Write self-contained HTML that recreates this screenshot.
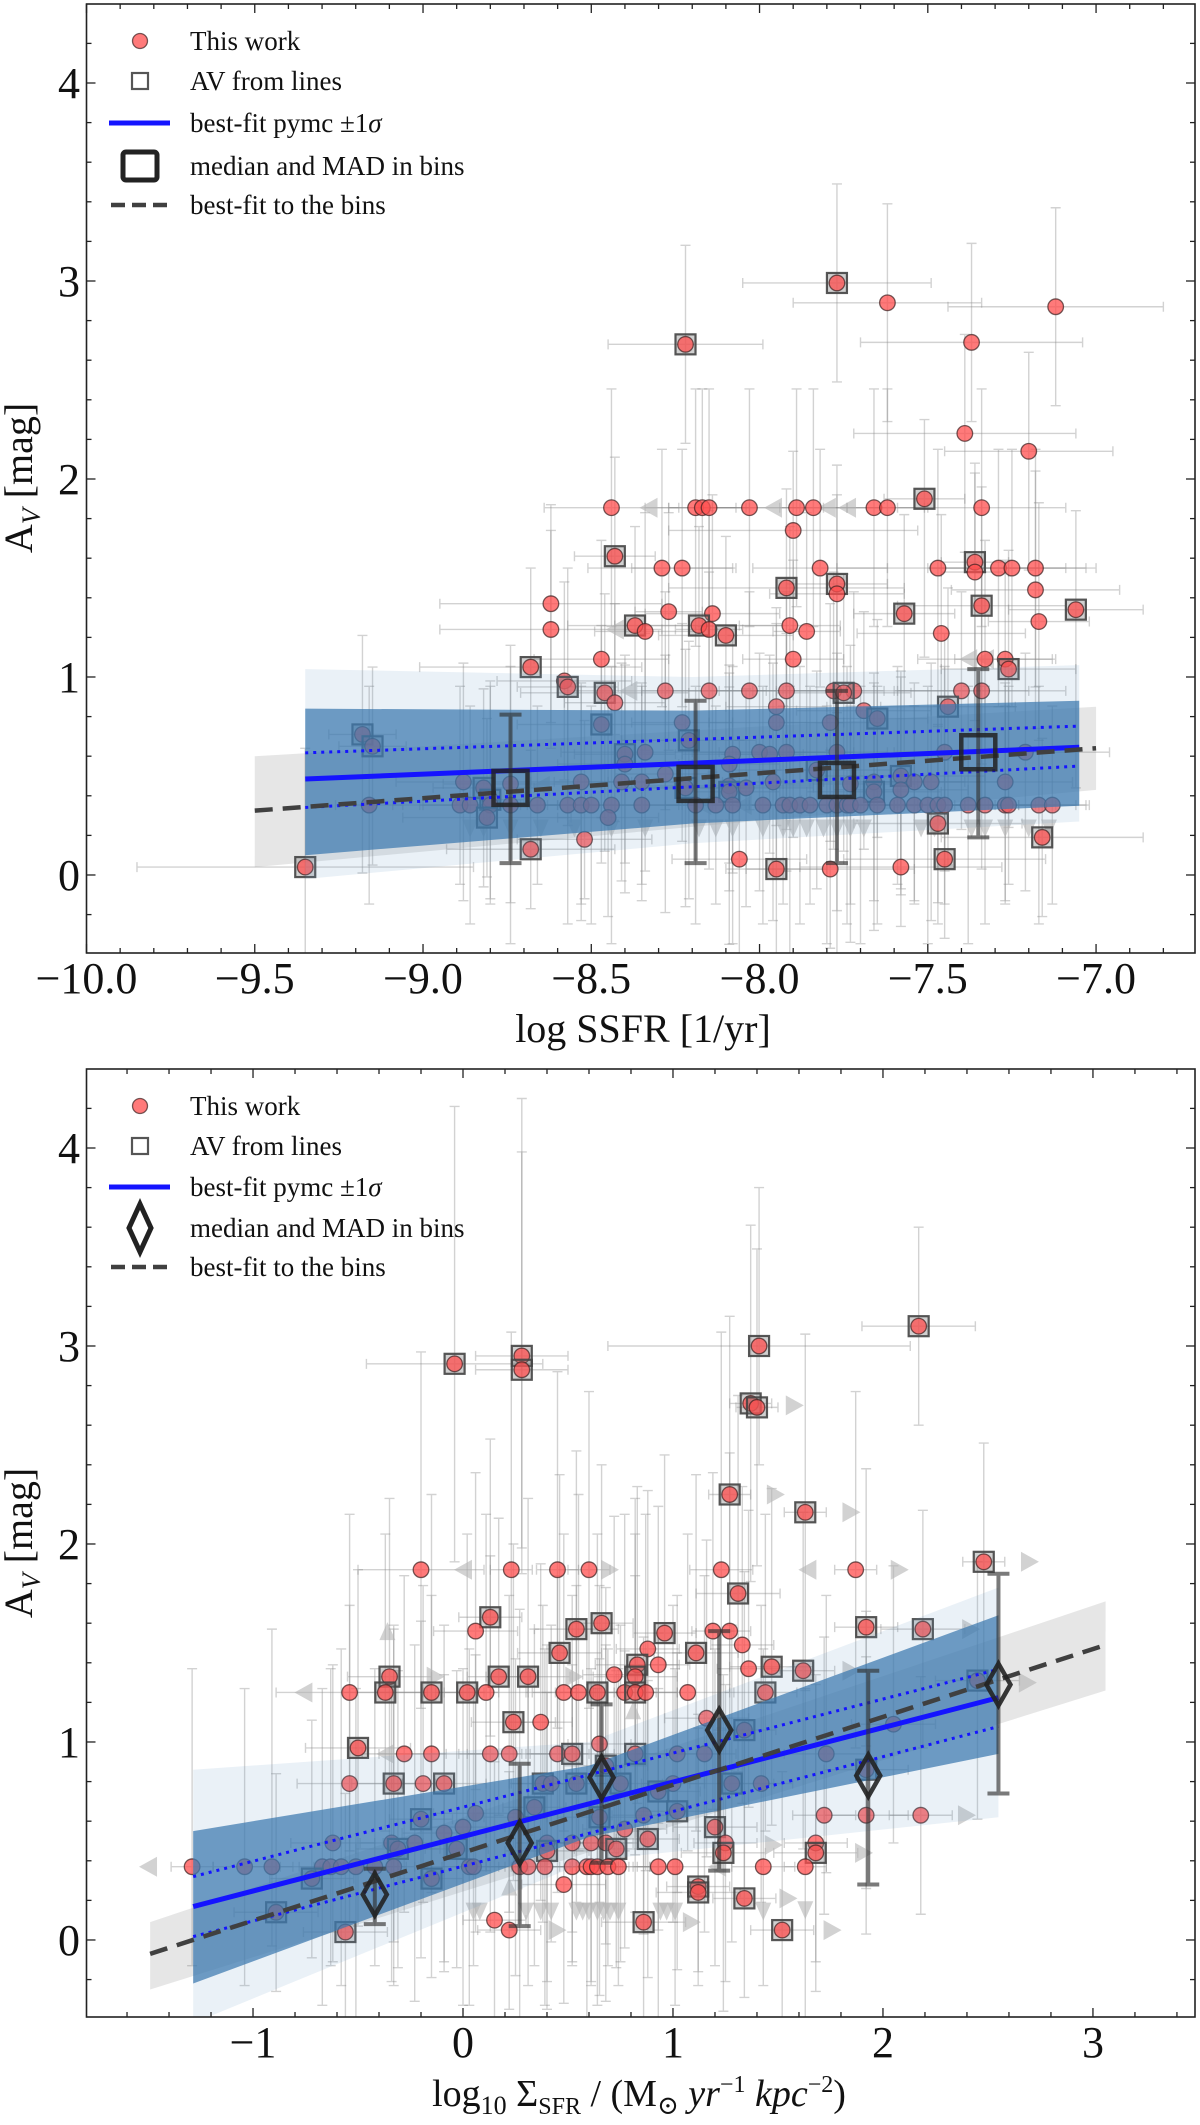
<!DOCTYPE html>
<html>
<head>
<meta charset="utf-8">
<style>
html,body{margin:0;padding:0;background:#fff;}
svg{display:block;font-family:"Liberation Serif","DejaVu Serif",serif;}
</style>
</head>
<body>
<svg id="chart" xmlns="http://www.w3.org/2000/svg" width="1200" height="2125" viewBox="0 0 1200 2125"></svg>
<script>
// ================= TOP PANEL DATA (log SSFR vs A_V) =================
const topX = [
 -7.77,-7.62,-7.12,-8.22,-7.37,-7.39,-7.20,-7.51,
 -8.44,-8.19,-8.17,-8.15,-8.03,-7.89,-7.84,-7.66,-7.62,-7.34,
 -7.90,-8.43,
 -8.29,-8.23,-7.82,-7.47,-7.29,-7.25,-7.18,
 -7.36,-7.36,
 -7.92,-7.77,-7.77,-7.18,-8.62,-7.57,-7.34,-7.06,-7.17,-8.27,-8.14,-8.62,-8.37,-8.34,-8.18,-8.15,-8.10,-7.91,-7.86,-7.46,-8.68,-8.47,-7.90,-7.33,-7.27,-7.26,-8.58,-8.57,-8.46,-8.43,
 -8.28,-8.15,-8.03,-7.92,-7.78,-7.72,-7.40,-7.34,
 -7.75,-7.95,-7.95,-7.79,-7.69,-7.65,-7.44,-8.47,-8.23,-9.18,-9.15,-8.21,-8.34,-8.40,-8.40,-8.08,-8.00,-7.97,-7.92,-7.77,-7.45,-7.21,-8.09,
 -8.88,-8.82,-8.80,-8.74,-8.53,-8.41,-8.35,-8.28,-8.22,-8.09,-8.09,-8.04,-7.96,-7.83,-7.73,-7.66,-7.66,-7.58,-7.58,-7.54,-7.49,-7.27,
 -9.16,-8.89,-8.86,-8.80,-8.74,-8.66,-8.57,-8.53,-8.50,-8.44,-8.35,-8.19,-8.13,-8.08,-7.99,-7.93,-7.91,-7.88,-7.85,-7.80,-7.77,-7.74,-7.73,-7.70,-7.65,-7.59,-7.54,-7.50,-7.47,-7.45,-7.38,-7.33,-7.27,-7.26,-7.17,-7.13,
 -8.81,-8.45,-7.47,-8.52,-7.16,-8.68,-8.06,-7.45,-7.95,-7.79,-7.58,-9.35
];
const topY = [
 2.99,2.89,2.87,2.68,2.69,2.23,2.14,1.90,
 1.855,1.855,1.855,1.855,1.855,1.855,1.855,1.855,1.855,1.855,
 1.74,1.61,
 1.55,1.55,1.55,1.55,1.55,1.55,1.55,
 1.58,1.53,
 1.45,1.47,1.42,1.44,1.37,1.32,1.36,1.34,1.28,1.33,1.32,1.24,1.26,1.23,1.26,1.24,1.21,1.26,1.23,1.22,1.05,1.09,1.09,1.09,1.09,1.04,0.98,0.95,0.92,0.87,
 0.93,0.93,0.93,0.93,0.93,0.93,0.93,0.93,
 0.92,0.85,0.77,0.77,0.83,0.79,0.85,0.76,0.77,0.71,0.65,0.68,0.62,0.61,0.56,0.61,0.62,0.61,0.62,0.62,0.62,0.62,0.56,
 0.47,0.44,0.38,0.46,0.47,0.47,0.47,0.51,0.44,0.45,0.42,0.44,0.47,0.53,0.46,0.47,0.42,0.50,0.43,0.47,0.47,0.47,
 0.353,0.353,0.353,0.353,0.353,0.353,0.353,0.353,0.353,0.353,0.353,0.353,0.353,0.353,0.353,0.353,0.353,0.353,0.353,0.353,0.353,0.353,0.353,0.353,0.353,0.353,0.353,0.353,0.353,0.353,0.353,0.353,0.353,0.353,0.353,0.353,
 0.29,0.29,0.26,0.18,0.19,0.13,0.08,0.08,0.03,0.03,0.04,0.04
];
const topSq = [
 1,0,0,1,0,0,0,1,
 0,0,0,0,0,0,0,0,0,0,
 0,1,
 0,0,0,0,0,0,0,
 1,0,
 1,1,0,0,0,1,1,1,0,0,0,0,1,0,1,0,1,0,0,0,1,0,0,0,0,1,0,1,1,0,
 0,0,0,0,0,0,0,0,
 1,0,0,0,0,1,1,1,0,1,1,1,0,1,0,0,0,0,0,0,0,0,0,
 0,1,1,0,0,0,0,0,1,0,1,0,0,1,0,0,1,1,0,0,0,0,
 0,0,0,0,0,0,0,0,0,0,0,0,0,0,0,0,0,0,0,0,0,0,0,0,0,0,0,0,0,0,0,0,0,0,0,0,
 1,0,1,0,1,1,0,1,1,0,0,1
];
const topErrLo = [
 0.5,0.6,0.5,0.5,0.4,0.6,0.6,0.8,
 0.6,0.7,0.6,0.6,0.6,0.5,0.6,0.6,0.6,0.6,
 0.5,0.9,
 0.7,0.7,0.6,0.8,0.7,0.7,0.6,
 0.8,0.8,
 0.8,0.9,0.6,0.7,0.6,0.7,0.8,0.9,0.6,0.7,0.8,0.6,0.7,0.6,0.9,0.7,0.6,0.8,0.7,0.6,0.7,0.8,0.9,0.7,0.6,0.8,0.5,0.7,0.8,0.6,
 0.6,0.9,0.6,0.7,0.8,0.6,0.7,0.9,
 0.8,0.6,0.7,0.6,0.7,0.6,0.8,0.7,0.6,0.7,0.6,0.8,0.6,0.7,0.5,0.6,0.7,0.5,0.6,0.8,0.6,0.7,0.5,
 0.6,0.5,0.5,0.6,0.7,0.5,0.6,0.7,0.6,0.8,0.5,0.6,0.7,0.6,0.8,0.6,0.7,0.6,0.5,0.6,0.7,0.6,
 0.5,0.4,0.6,0.5,0.7,0.4,0.6,0.5,0.6,0.7,0.4,0.6,0.5,0.7,0.6,0.5,0.8,0.6,0.5,0.7,0.9,0.6,0.5,0.7,0.6,0.4,0.5,0.7,0.6,0.5,0.7,0.6,0.5,0.4,0.6,0.5,
 0.3,0.5,0.4,0.3,0.4,0.3,0.5,0.4,0.7,0.4,0.3,0.6
];
const topErrHi = [
 0.5,0.5,0.5,0.5,0.5,0.5,0.5,0.4,
 0.6,0.6,0.6,0.6,0.6,0.6,0.6,0.6,0.6,0.6,
 0.4,0.5,
 0.6,0.6,0.6,0.6,0.6,0.6,0.6,
 0.5,0.5,
 0.5,0.6,0.5,0.6,0.5,0.5,0.6,0.5,0.6,0.5,0.6,0.5,0.5,0.6,0.5,0.6,0.5,0.5,0.6,0.6,0.5,0.6,0.5,0.6,0.5,0.6,0.5,0.6,0.5,0.5,
 0.5,0.6,0.5,0.5,0.6,0.5,0.5,0.6,
 0.6,0.5,0.5,0.6,0.5,0.5,0.6,0.5,0.5,0.5,0.4,0.5,0.6,0.5,0.5,0.6,0.5,0.5,0.6,0.5,0.6,0.5,0.5,
 0.6,0.5,0.6,0.7,0.5,0.6,0.5,0.6,0.7,0.5,0.6,0.5,0.6,0.5,0.7,0.5,0.6,0.5,0.6,0.5,0.6,0.5,
 0.6,0.6,0.5,0.6,0.7,0.5,0.6,0.6,0.5,0.7,0.6,0.6,0.5,0.7,0.6,0.5,0.6,0.7,0.6,0.5,0.6,0.7,0.5,0.6,0.6,0.7,0.5,0.6,0.5,0.7,0.6,0.6,0.5,0.6,0.6,0.5,
 0.5,0.6,0.5,0.6,0.5,0.5,0.6,0.5,0.5,0.6,0.5,0.6
];
const topErrX = [
 0.28,0.28,0.32,0.23,0.33,0.33,0.25,0.12,
 0.2,0.15,0.1,0.12,0.15,0.25,0.1,0.15,0.12,0.25,
 0.37,0.12,
 0.22,0.15,0.2,0.3,0.2,0.25,0.15,
 0.1,0.1,
 0.35,0.15,0.2,0.25,0.33,0.15,0.25,0.2,0.15,0.1,0.2,0.33,0.2,0.15,0.25,0.1,0.2,0.15,0.1,0.25,0.33,0.2,0.15,0.2,0.15,0.2,0.2,0.15,0.25,0.15,
 0.3,0.2,0.25,0.2,0.15,0.3,0.2,0.25,
 0.2,0.15,0.2,0.15,0.2,0.15,0.2,0.25,0.15,0.1,0.1,0.2,0.25,0.15,0.2,0.15,0.2,0.1,0.2,0.15,0.15,0.25,0.15,
 0.2,0.15,0.1,0.2,0.15,0.2,0.1,0.15,0.2,0.25,0.15,0.2,0.15,0.25,0.2,0.15,0.2,0.25,0.2,0.15,0.2,0.2,
 0.1,0.2,0.15,0.2,0.1,0.15,0.2,0.1,0.15,0.2,0.25,0.15,0.1,0.2,0.15,0.1,0.2,0.15,0.1,0.2,0.1,0.15,0.2,0.1,0.15,0.2,0.15,0.1,0.2,0.15,0.2,0.1,0.15,0.2,0.15,0.1,
 0.25,0.15,0.25,0.2,0.3,0.25,0.2,0.3,0.15,0.25,0.3,0.5
];
const topDownX = [-8.86,-8.82,-8.74,-8.65,-8.55,-8.44,-8.34,-8.18,-8.13,-8.08,-7.99,-7.93,-7.90,-7.86,-7.81,-7.77,-7.73,-7.69,-7.52,-7.48,-7.37,-7.33,-7.27,-7.20,-7.14];
const topDownY = [0.235,0.235,0.235,0.235,0.235,0.235,0.235,0.235,0.235,0.235,0.235,0.235,0.235,0.235,0.235,0.235,0.235,0.235,0.235,0.235,0.235,0.235,0.235,0.235,0.235];
const topLeftX = [-8.33,-7.96,-7.80,-7.74,-8.43,-8.39,-8.65,-7.38,-7.33,-8.17,-8.05,-7.90];
const topLeftY = [1.855,1.855,1.855,1.855,1.24,0.93,0.45,1.09,1.09,0.353,0.353,0.353];
const topBinX = [-8.74,-8.19,-7.77,-7.35];
const topBinY = [0.44,0.46,0.48,0.62];
const topBinLo = [0.38,0.40,0.42,0.43];
const topBinHi = [0.37,0.42,0.45,0.42];
const topFitX = [-9.35,-7.05];
const topFitY = [0.485,0.645];
const topFitUpY = [0.617,0.752];
const topFitLoY = [0.341,0.55];
const topBandX = [-9.35,-8.2,-7.05];
const topBandCoreHi = [0.84,0.83,0.88];
const topBandCoreLo = [0.10,0.26,0.35];
const topBandFrHi = [1.04,1.00,1.06];
const topBandFrLo = [-0.02,0.16,0.27];
const topBinFitX = [-9.5,-7.0];
const topBinFitY = [0.325,0.64];
const topBinBandHi = [0.60,0.85];
const topBinBandLo = [0.04,0.43];
const topXTicks = [-10.0,-9.5,-9.0,-8.5,-8.0,-7.5,-7.0];
const topXTickLabels = ["−10.0","−9.5","−9.0","−8.5","−8.0","−7.5","−7.0"];
const yTicks = [0,1,2,3,4];
const yTickLabels = ["0","1","2","3","4"];

// ================= BOTTOM PANEL DATA (Sigma_SFR vs A_V) =================
const botX = [
 2.17,1.41,-0.04,0.28,0.28,1.37,1.40,1.27,1.63,-0.20,0.23,0.45,0.60,1.23,1.87,2.48,1.31,0.13,0.06,0.54,0.66,0.96,1.19,1.27,1.92,2.19,
 0.46,0.88,1.11,1.33,-0.35,0.17,0.31,0.72,0.83,0.93,0.82,1.36,1.47,1.62,
 -0.54,-0.37,-0.15,0.02,0.11,0.48,0.55,0.64,0.77,0.82,0.87,1.07,1.44,
 0.24,0.37,1.16,1.34,2.05,-0.50,2.45,
 -0.28,-0.15,0.13,0.22,0.45,0.52,0.82,1.02,1.15,1.73,
 0.65,0.68,1.92,
 -0.54,-0.33,-0.19,-0.09,0.38,0.42,0.54,0.75,1.00,1.28,1.42,
 0.93,0.34,0.06,-0.20,0.65,0.86,1.02,1.72,1.92,2.18,1.20,0.25,0.77,
 0.88,-0.62,-0.34,-0.31,-0.23,-0.09,-0.03,0.00,0.40,0.40,0.52,0.61,0.68,0.73,1.25,1.24,1.68,1.68,
 -1.29,-1.04,-0.91,-0.67,-0.63,-0.58,-0.51,-0.42,-0.33,0.03,0.05,0.27,0.31,0.39,0.52,0.59,0.61,0.64,0.69,0.74,0.93,1.01,1.43,1.63,
 -0.72,-0.15,0.48,1.12,1.12,1.34,-0.89,0.15,0.86,0.22,-0.56,1.52
];
const botY = [
 3.10,3.00,2.91,2.95,2.88,2.71,2.69,2.25,2.16,1.87,1.87,1.87,1.87,1.87,1.87,1.91,1.75,1.63,1.56,1.57,1.60,1.55,1.56,1.56,1.58,1.57,
 1.45,1.47,1.45,1.49,1.33,1.33,1.33,1.34,1.39,1.39,1.33,1.37,1.38,1.36,
 1.25,1.25,1.25,1.25,1.25,1.25,1.25,1.25,1.25,1.25,1.25,1.25,1.25,
 1.10,1.10,1.12,1.06,1.09,0.97,1.31,
 0.94,0.94,0.94,0.94,0.94,0.94,0.94,0.94,0.94,0.94,
 0.99,0.88,0.86,
 0.79,0.79,0.79,0.79,0.79,0.79,0.79,0.79,0.79,0.79,0.79,
 0.75,0.67,0.64,0.61,0.62,0.63,0.65,0.63,0.63,0.63,0.57,0.62,0.56,
 0.51,0.49,0.49,0.46,0.49,0.54,0.46,0.57,0.49,0.45,0.49,0.49,0.49,0.46,0.49,0.44,0.49,0.44,
 0.37,0.37,0.37,0.37,0.37,0.37,0.37,0.37,0.37,0.37,0.37,0.37,0.37,0.37,0.37,0.37,0.37,0.37,0.37,0.37,0.37,0.37,0.37,0.37,
 0.31,0.31,0.28,0.27,0.24,0.21,0.14,0.10,0.09,0.05,0.04,0.05
];
const botSq = [
 1,1,1,1,1,1,1,1,1,0,0,0,0,0,0,1,1,1,0,1,1,1,0,0,1,1,
 1,0,1,0,1,1,1,0,1,0,1,0,1,1,
 0,1,1,1,0,0,0,1,0,1,0,0,1,
 1,0,0,1,0,1,1,
 0,0,0,0,0,1,1,0,0,0,
 0,1,1,
 0,1,0,1,1,0,1,1,0,1,0,
 1,1,0,1,1,0,1,0,0,0,1,0,0,
 1,0,0,1,0,0,1,0,0,1,0,0,0,1,0,1,0,1,
 0,0,0,0,0,0,0,0,0,0,0,0,0,0,0,0,0,0,0,0,0,0,0,0,
 1,1,0,1,1,1,1,0,1,0,1,1
];
const botErrLo = [
 0.5,0.6,1.0,1.1,0.9,0.9,0.8,1.0,0.9,0.7,0.9,0.8,0.7,0.8,0.9,0.6,0.9,0.6,0.8,0.9,0.7,0.8,0.9,0.7,0.6,0.6,
 0.8,0.7,0.9,0.8,0.9,0.7,0.8,0.9,0.7,0.8,0.9,0.7,0.8,0.9,
 0.8,0.7,0.9,0.8,0.9,0.7,0.8,0.9,0.8,0.7,0.9,0.8,0.7,
 0.8,0.9,0.7,0.8,0.6,0.9,0.7,
 0.8,0.7,0.9,0.8,0.7,0.9,0.8,0.7,0.9,0.6,
 0.8,0.9,0.6,
 0.7,0.8,0.6,0.9,0.7,0.8,0.6,0.9,0.7,0.8,0.6,
 0.7,0.8,0.6,0.7,0.9,0.6,0.8,0.5,0.6,0.5,0.7,0.8,0.6,
 0.7,0.6,0.7,0.6,0.8,0.7,0.6,0.9,0.7,0.8,0.6,0.7,0.8,0.6,0.7,0.8,0.6,0.7,
 0.5,0.6,0.4,0.7,0.5,0.6,0.8,0.5,0.6,0.7,0.5,0.9,0.6,0.7,0.5,0.8,0.6,0.7,0.5,0.6,0.8,0.7,0.6,0.8,
 0.4,0.5,0.6,0.5,0.4,0.5,0.4,0.5,0.6,0.4,0.5,0.5
];
const botErrHi = [
 0.5,0.8,1.3,1.3,1.1,0.9,0.8,0.9,0.9,1.1,1.2,1.0,0.9,1.2,0.9,0.6,1.0,0.9,0.8,0.9,0.8,0.9,0.8,0.9,0.8,0.6,
 0.9,0.8,0.9,0.8,0.9,0.8,0.9,0.8,0.9,0.8,0.9,0.8,0.9,0.8,
 0.9,0.8,1.0,0.8,0.9,0.8,1.0,0.8,0.9,0.8,0.9,0.8,0.9,
 0.9,0.8,0.9,0.8,0.8,0.9,0.6,
 0.9,0.8,1.0,0.8,0.9,0.8,0.9,0.8,0.9,0.8,
 0.8,0.9,0.8,
 0.9,0.8,1.0,0.8,0.9,0.8,1.0,0.8,0.9,0.8,0.9,
 0.8,0.9,0.8,1.0,0.8,0.9,0.8,0.9,0.8,0.7,0.9,0.8,0.9,
 0.8,0.9,0.8,0.9,1.0,0.8,0.9,0.8,1.0,0.8,0.9,0.8,1.0,0.9,0.8,0.9,0.8,0.9,
 1.0,0.9,1.2,0.9,1.0,1.1,0.9,1.0,1.2,1.1,0.9,1.3,1.0,1.1,0.9,1.2,1.0,0.9,1.1,1.0,0.9,1.0,1.1,0.9,
 0.8,0.9,0.7,0.8,0.9,0.8,0.7,0.8,0.9,0.8,0.7,0.8
];
const botErrX = [
 0.27,0.72,0.42,0.22,0.22,0.1,0.1,0.1,0.1,0.3,0.1,0.1,0.1,0.15,0.1,0.1,0.2,0.15,0.2,0.2,0.15,0.15,0.1,0.1,0.15,0.2,
 0.2,0.15,0.2,0.15,0.2,0.15,0.2,0.15,0.2,0.15,0.2,0.15,0.2,0.15,
 0.35,0.2,0.25,0.15,0.2,0.15,0.25,0.2,0.15,0.2,0.15,0.2,0.15,
 0.2,0.15,0.2,0.15,0.2,0.25,0.2,
 0.2,0.25,0.15,0.2,0.15,0.2,0.15,0.2,0.15,0.2,
 0.15,0.2,0.2,
 0.25,0.2,0.15,0.2,0.15,0.2,0.15,0.2,0.15,0.2,0.15,
 0.2,0.15,0.2,0.15,0.2,0.15,0.2,0.15,0.2,0.15,0.2,0.15,0.2,
 0.15,0.2,0.15,0.2,0.15,0.2,0.15,0.2,0.15,0.2,0.15,0.2,0.15,0.2,0.15,0.2,0.15,0.2,
 0.1,0.15,0.1,0.2,0.15,0.1,0.2,0.15,0.1,0.2,0.15,0.1,0.2,0.15,0.1,0.2,0.15,0.1,0.2,0.15,0.1,0.2,0.15,0.1,
 0.2,0.15,0.2,0.15,0.2,0.15,0.2,0.15,0.2,0.15,0.2,0.15
];
const botDownX = [0.05,0.08,0.30,0.37,0.42,0.54,0.57,0.60,0.64,0.67,0.70,0.74,0.94,0.97,1.01,1.43,1.63];
const botDownY = [0.143,0.143,0.143,0.143,0.143,0.143,0.143,0.143,0.143,0.143,0.143,0.143,0.143,0.143,0.143,0.143,0.15];
const botRightX = [1.58,1.49,1.85,2.08,2.70,0.70,-0.13,0.53,1.85,2.40,1.91,1.48,1.55,1.76,0.45,1.09,2.69,2.42];
const botRightY = [2.70,2.25,2.16,1.87,1.91,1.87,1.33,1.33,1.36,0.63,0.44,0.48,0.21,0.05,0.05,0.09,1.30,1.57];
const botLeftX = [0.00,1.64,-1.50,-0.76,-0.37,1.21];
const botLeftY = [1.87,1.87,0.37,1.25,0.94,0.37];
const botUpX = [-0.36,0.22,0.81];
const botUpY = [1.56,0.27,1.16];
const botBinX = [-0.42,0.27,0.66,1.22,1.93,2.55];
const botBinY = [0.23,0.49,0.82,1.06,0.83,1.29];
const botBinLo = [0.15,0.42,0.43,0.71,0.55,0.55];
const botBinHi = [0.13,0.40,0.37,0.50,0.53,0.56];
const botFitX = [-1.285,2.55];
const botFitY = [0.169,1.224];
const botFitUpY = [0.32,1.367];
const botFitLoY = [0.017,1.078];
const botBandX = [-1.285,0.6,2.55];
const botBandCoreHi = [0.55,0.88,1.64];
const botBandCoreLo = [-0.22,0.52,0.94];
const botBandFrHi = [0.86,1.00,1.78];
const botBandFrLo = [-0.42,0.40,0.62];
const botBinFitX = [-1.49,3.06];
const botBinFitY = [-0.07,1.49];
const botBinBandHi = [0.09,1.71];
const botBinBandLo = [-0.25,1.26];
const botXTicks = [-1,0,1,2,3];
const botXTickLabels = ["−1","0","1","2","3"];

// ================= RENDERING =================
const NS = "http://www.w3.org/2000/svg";
const svg = document.getElementById("chart");
function mk(tag, attrs, parent) {
  const e = document.createElementNS(NS, tag);
  for (const k in attrs) e.setAttribute(k, attrs[k]);
  (parent || svg).appendChild(e);
  return e;
}

function drawPanel(P) {
  const sx = v => P.left + (v - P.xmin) / (P.xmax - P.xmin) * (P.right - P.left);
  const sy = v => P.bottom - (v - P.ymin) / (P.ymax - P.ymin) * (P.bottom - P.top);

  const g = mk("g", {});
  
  

  const cid = P.name + "-clip";
  const defs = mk("defs", {}, g);
  const cp = mk("clipPath", {id: cid}, defs);
  mk("rect", {x: P.left, y: P.top, width: P.right - P.left, height: P.bottom - P.top}, cp);
  const plot = mk("g", {"clip-path": "url(#" + cid + ")"}, g);
  
  

  const D = P.d;
  let pts = [];
  for (let i = 0; i < D.binFitX.length; i++) pts.push(sx(D.binFitX[i]) + "," + sy(D.binBandHi[i]));
  for (let i = D.binFitX.length - 1; i >= 0; i--) pts.push(sx(D.binFitX[i]) + "," + sy(D.binBandLo[i]));
  const gb = mk("polygon", {points: pts.join(" "), fill: "#dcdcdc", "fill-opacity": "0.7"}, plot);
  
  

  const eg = mk("g", {stroke: "#8a8a8a", "stroke-opacity": "0.38", "stroke-width": "1.4", fill: "none"}, plot);
  
  
  for (let i = 0; i < D.x.length; i++) {
    const cx = sx(D.x[i]), cy = sy(D.y[i]);
    const lo = D.errLo[i] ?? 0.5, hi = D.errHi[i] ?? 0.5, ex = D.errX[i] ?? 0.15;
    const y1 = sy(D.y[i] + hi), y2 = sy(D.y[i] - lo);
    const x1 = sx(D.x[i] - ex), x2 = sx(D.x[i] + ex);
    mk("path", {d: `M${cx},${y1}V${y2}M${cx-5},${y1}H${cx+5}M${cx-5},${y2}H${cx+5}M${x1},${cy}H${x2}M${x1},${cy-5}V${cy+5}M${x2},${cy-5}V${cy+5}`}, eg);
  }

  const lg = mk("g", {fill: "#b4b4b4", "fill-opacity": "0.6"}, plot);
  
  
  for (let i = 0; i < D.downX.length; i++) {
    const cx = sx(D.downX[i]), cy = sy(D.downY[i]);
    const t = mk("polygon", {points: `${cx-8},${cy-9} ${cx+8},${cy-9} ${cx},${cy+9}`}, lg);
    
    
  }
  for (let i = 0; i < D.leftX.length; i++) {
    const cx = sx(D.leftX[i]), cy = sy(D.leftY[i]);
    const t = mk("polygon", {points: `${cx+9},${cy-10} ${cx+9},${cy+10} ${cx-9},${cy}`}, lg);
    
    
  }
  for (let i = 0; i < D.rightX.length; i++) {
    const cx = sx(D.rightX[i]), cy = sy(D.rightY[i]);
    const t = mk("polygon", {points: `${cx-9},${cy-10} ${cx-9},${cy+10} ${cx+9},${cy}`}, lg);
    
    
  }
  for (let i = 0; i < D.upX.length; i++) {
    const cx = sx(D.upX[i]), cy = sy(D.upY[i]);
    const t = mk("polygon", {points: `${cx-8},${cy+9} ${cx+8},${cy+9} ${cx},${cy-9}`}, lg);
    
    
  }

  const pg = mk("g", {}, plot);
  
  
  for (let i = 0; i < D.x.length; i++) {
    const cx = sx(D.x[i]), cy = sy(D.y[i]);
    if (D.sq[i]) {
      const r = mk("rect", {x: cx - 10, y: cy - 10, width: 20, height: 20, fill: "#777", "fill-opacity": "0.35", stroke: "#444", "stroke-width": "2.2", "stroke-opacity": "0.9"}, pg);
      
      
    }
    const c = mk("circle", {cx: cx, cy: cy, r: 7.8, fill: "#ff4d4d", "fill-opacity": "0.75", stroke: "#3a2020", "stroke-opacity": "0.7", "stroke-width": "1.3"}, pg);
    
    
  }

  function bandPoly(hiArr, loArr) {
    let p = [];
    for (let i = 0; i < D.bandX.length; i++) p.push(sx(D.bandX[i]) + "," + sy(hiArr[i]));
    for (let i = D.bandX.length - 1; i >= 0; i--) p.push(sx(D.bandX[i]) + "," + sy(loArr[i]));
    return p.join(" ");
  }
  const bf = mk("polygon", {points: bandPoly(D.bandFrHi, D.bandFrLo), fill: "#6a9cc8", "fill-opacity": "0.14"}, plot);
  
  
  const bc = mk("polygon", {points: bandPoly(D.bandCoreHi, D.bandCoreLo), fill: "#3b78ae", "fill-opacity": "0.72"}, plot);
  
  

  const bl = mk("line", {x1: sx(D.fitX[0]), y1: sy(D.fitY[0]), x2: sx(D.fitX[1]), y2: sy(D.fitY[1]), stroke: "#1414ff", "stroke-width": "5"}, plot);
  
  
  const du = mk("line", {x1: sx(D.fitX[0]), y1: sy(D.fitUpY[0]), x2: sx(D.fitX[1]), y2: sy(D.fitUpY[1]), stroke: "#1414ff", "stroke-width": "3", "stroke-dasharray": "3 5"}, plot);
  
  
  const dl = mk("line", {x1: sx(D.fitX[0]), y1: sy(D.fitLoY[0]), x2: sx(D.fitX[1]), y2: sy(D.fitLoY[1]), stroke: "#1414ff", "stroke-width": "3", "stroke-dasharray": "3 5"}, plot);
  
  

  const dd = mk("line", {x1: sx(D.binFitX[0]), y1: sy(D.binFitY[0]), x2: sx(D.binFitX[1]), y2: sy(D.binFitY[1]), stroke: "#404040", "stroke-width": "4.5", "stroke-dasharray": "18 10"}, plot);
  
  

  const bg = mk("g", {}, plot);
  
  
  for (let i = 0; i < D.binX.length; i++) {
    const cx = sx(D.binX[i]), cy = sy(D.binY[i]);
    const y1 = sy(D.binY[i] + D.binHi[i]), y2 = sy(D.binY[i] - D.binLo[i]);
    const eb = mk("path", {d: `M${cx},${y1}V${y2}M${cx-11},${y1}H${cx+11}M${cx-11},${y2}H${cx+11}`, stroke: "#333", "stroke-opacity": "0.65", "stroke-width": "4", fill: "none"}, bg);
    
    
    let m;
    if (P.binShape === "square") {
      m = mk("rect", {x: cx - 17, y: cy - 17, width: 34, height: 34, fill: "none", stroke: "#222", "stroke-opacity": "0.85", "stroke-width": "4.5"}, bg);
    } else {
      m = mk("polygon", {points: `${cx},${cy-21} ${cx+12},${cy} ${cx},${cy+21} ${cx-12},${cy}`, fill: "none", stroke: "#222", "stroke-opacity": "0.9", "stroke-width": "4.5"}, bg);
    }
    
    
  }

  const fr = mk("rect", {x: P.left, y: P.top, width: P.right - P.left, height: P.bottom - P.top, fill: "none", stroke: "#222", "stroke-width": "1.6"}, g);
  
  

  const tg = mk("g", {stroke: "#222", "stroke-width": "1.3"}, g);
  
  
  const nx = Math.round((P.xmax - P.xmin) / P.xMinor) + 2;
  const x0 = Math.ceil(P.xmin / P.xMinor - 1e-6) * P.xMinor;
  for (let k = 0; k < nx; k++) {
    const v = x0 + k * P.xMinor;
    if (v > P.xmax + 1e-6) break;
    const major = Math.abs(v / P.xMajor - Math.round(v / P.xMajor)) < 1e-4;
    const L = major ? 9 : 5, X = sx(v);
    mk("line", {x1: X, y1: P.bottom, x2: X, y2: P.bottom - L}, tg);
    mk("line", {x1: X, y1: P.top, x2: X, y2: P.top + L}, tg);
  }
  for (let v = Math.ceil(P.ymin / 0.2) * 0.2; v <= P.ymax + 1e-6; v += 0.2) {
    const major = Math.abs(v - Math.round(v)) < 1e-4;
    const L = major ? 9 : 5, Y = sy(v);
    mk("line", {x1: P.left, y1: Y, x2: P.left + L, y2: Y}, tg);
    mk("line", {x1: P.right, y1: Y, x2: P.right - L, y2: Y}, tg);
  }

  for (let i = 0; i < P.xTicks.length; i++) {
    const t = mk("text", {x: sx(P.xTicks[i]), y: P.bottom + 40, "text-anchor": "middle", "font-size": "44", fill: "#111"}, g);
    t.textContent = P.xTickLabels[i];
    
    
  }
  for (let i = 0; i < yTicks.length; i++) {
    const t = mk("text", {x: 80, y: sy(yTicks[i]) + 15, "text-anchor": "end", "font-size": "44", fill: "#111"}, g);
    t.textContent = yTickLabels[i];
    
    
  }
}

drawPanel({
  name: "top-panel", left: 86.5, right: 1195, top: 4, bottom: 953,
  xmin: -10, xmax: -6.706, ymin: -0.394, ymax: 4.399, xMinor: 0.1, xMajor: 0.5,
  xTicks: topXTicks, xTickLabels: topXTickLabels, binShape: "square",
  d: {x: topX, y: topY, sq: topSq, errLo: topErrLo, errHi: topErrHi, errX: topErrX,
      downX: topDownX, downY: topDownY, leftX: topLeftX, leftY: topLeftY, rightX: [], rightY: [], upX: [], upY: [],
      binX: topBinX, binY: topBinY, binLo: topBinLo, binHi: topBinHi,
      fitX: topFitX, fitY: topFitY, fitUpY: topFitUpY, fitLoY: topFitLoY,
      bandX: topBandX, bandCoreHi: topBandCoreHi, bandCoreLo: topBandCoreLo, bandFrHi: topBandFrHi, bandFrLo: topBandFrLo,
      binFitX: topBinFitX, binFitY: topBinFitY, binBandHi: topBinBandHi, binBandLo: topBinBandLo}
});
drawPanel({
  name: "bottom-panel", left: 86.5, right: 1195, top: 1069, bottom: 2017,
  xmin: -1.793, xmax: 3.486, ymin: -0.389, ymax: 4.399, xMinor: 0.2, xMajor: 1,
  xTicks: botXTicks, xTickLabels: botXTickLabels, binShape: "diamond",
  d: {x: botX, y: botY, sq: botSq, errLo: botErrLo, errHi: botErrHi, errX: botErrX,
      downX: botDownX, downY: botDownY, leftX: botLeftX, leftY: botLeftY, rightX: botRightX, rightY: botRightY, upX: botUpX, upY: botUpY,
      binX: botBinX, binY: botBinY, binLo: botBinLo, binHi: botBinHi,
      fitX: botFitX, fitY: botFitY, fitUpY: botFitUpY, fitLoY: botFitLoY,
      bandX: botBandX, bandCoreHi: botBandCoreHi, bandCoreLo: botBandCoreLo, bandFrHi: botBandFrHi, bandFrLo: botBandFrLo,
      binFitX: botBinFitX, binFitY: botBinFitY, binBandHi: botBinBandHi, binBandLo: botBinBandLo}
});

function legend(ys, binShape, name) {
  const g = mk("g", {"font-size": "27", fill: "#111"});
  
  
  const mx = 140, tx = 190;
  const c = mk("circle", {cx: mx, cy: ys[0], r: 7.5, fill: "#ff4d4d", "fill-opacity": "0.75", stroke: "#3a2020", "stroke-opacity": "0.7", "stroke-width": "1.3"}, g);
  
  
  const s = mk("rect", {x: mx - 8, y: ys[1] - 8, width: 16, height: 16, fill: "#fff", stroke: "#555", "stroke-width": "2.2"}, g);
  
  
  const l = mk("line", {x1: 109, y1: ys[2], x2: 170, y2: ys[2], stroke: "#1414ff", "stroke-width": "5"}, g);
  
  
  let m;
  if (binShape === "square") m = mk("rect", {x: mx - 17, y: ys[3] - 14, width: 34, height: 28, fill: "none", stroke: "#222", "stroke-width": "5", rx: 3}, g);
  else m = mk("polygon", {points: `${mx},${ys[3]-24} ${mx+11},${ys[3]} ${mx},${ys[3]+24} ${mx-11},${ys[3]}`, fill: "none", stroke: "#222", "stroke-width": "5"}, g);
  
  
  const d = mk("line", {x1: 111, y1: ys[4], x2: 168, y2: ys[4], stroke: "#404040", "stroke-width": "4.5", "stroke-dasharray": "14 7"}, g);
  
  
  const labels = ["This work", "AV from lines", null, "median and MAD in bins", "best-fit to the bins"];
  for (let i = 0; i < 5; i++) {
    const t = mk("text", {x: tx, y: ys[i] + 9}, g);
    if (labels[i]) t.textContent = labels[i];
    else t.innerHTML = 'best-fit pymc ±1<tspan font-style="italic">σ</tspan>';
    
    
  }
}
legend([41, 81, 123, 166, 205], "square", "top-legend");
legend([1106, 1146, 1187, 1228, 1267], "diamond", "bottom-legend");

const xt1 = mk("text", {x: 643, y: 1042, "text-anchor": "middle", "font-size": "40", fill: "#111"});
xt1.textContent = "log SSFR [1/yr]";



const yt1 = mk("text", {x: 0, y: 0, "text-anchor": "middle", "font-size": "40", fill: "#111", transform: "translate(32,478) rotate(-90)"});
yt1.innerHTML = 'A<tspan font-size="26" font-style="italic" dy="8">V</tspan><tspan dy="-8"> [mag]</tspan>';



const yt2 = mk("text", {x: 0, y: 0, "text-anchor": "middle", "font-size": "40", fill: "#111", transform: "translate(32,1543) rotate(-90)"});
yt2.innerHTML = 'A<tspan font-size="26" font-style="italic" dy="8">V</tspan><tspan dy="-8"> [mag]</tspan>';



const xt2 = mk("text", {x: 639, y: 2106, "text-anchor": "middle", "font-size": "38", fill: "#111"});
xt2.innerHTML = 'log<tspan font-size="26" dy="8">10</tspan><tspan dy="-8"> Σ</tspan><tspan font-size="24" dy="8">SFR</tspan><tspan dy="-8"> / (M</tspan><tspan font-size="26" dy="8">⊙</tspan><tspan dy="-8" font-style="italic"> yr</tspan><tspan font-size="24" dy="-14">−1</tspan><tspan dy="14" font-style="italic"> kpc</tspan><tspan font-size="24" dy="-14">−2</tspan><tspan dy="14">)</tspan>';


</script>
</body>
</html>
